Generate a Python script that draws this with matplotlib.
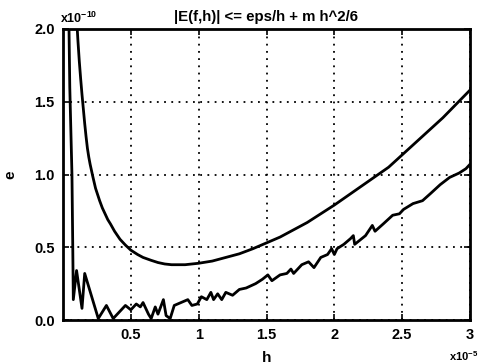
import matplotlib
matplotlib.use("Agg")
import matplotlib.pyplot as plt

# Units: h in 1e-5, e in 1e-10
bound_h = [0.09, 0.10, 0.11, 0.12, 0.13, 0.14, 0.15, 0.16, 0.17, 0.18, 0.19, 0.20,
           0.22, 0.24, 0.27, 0.29, 0.31, 0.33, 0.35, 0.38, 0.42, 0.46, 0.50, 0.55,
           0.59, 0.65, 0.70, 0.75, 0.80, 0.90, 1.00, 1.10, 1.20, 1.30, 1.40, 1.50,
           1.60, 1.70, 1.80, 1.90, 2.00, 2.20, 2.40, 2.60, 2.80, 3.00]
bound_e = [2.30, 2.08, 1.92, 1.78, 1.66, 1.55, 1.45, 1.35, 1.26, 1.18, 1.12, 1.07,
           0.985, 0.905, 0.82, 0.77, 0.73, 0.69, 0.66, 0.61, 0.555, 0.515, 0.48, 0.45,
           0.43, 0.41, 0.395, 0.385, 0.38, 0.38, 0.39, 0.405, 0.43, 0.455, 0.49, 0.53,
           0.57, 0.62, 0.67, 0.73, 0.79, 0.92, 1.05, 1.22, 1.39, 1.58]

err_h = [0.040, 0.050, 0.066, 0.072, 0.076, 0.10, 0.14, 0.16, 0.26, 0.32, 0.37, 0.46,
         0.50, 0.54, 0.57, 0.59, 0.63, 0.65, 0.68, 0.70, 0.74, 0.76, 0.79, 0.82,
         0.87, 0.92, 0.95, 0.99, 1.02, 1.06, 1.09, 1.11, 1.14, 1.17, 1.20, 1.25,
         1.30, 1.35, 1.42, 1.47, 1.51, 1.54, 1.60, 1.65, 1.68, 1.70, 1.76, 1.81,
         1.85, 1.90, 1.95, 1.98, 2.00, 2.02, 2.07, 2.12, 2.14, 2.15, 2.23, 2.28,
         2.30, 2.36, 2.43, 2.48, 2.51, 2.58, 2.65, 2.71, 2.78, 2.85, 2.92, 2.97, 3.00]
err_e = [2.3, 1.6, 1.0, 0.5, 0.14, 0.34, 0.08, 0.32, 0.01, 0.10, 0.01, 0.10,
         0.07, 0.11, 0.09, 0.12, 0.04, 0.01, 0.09, 0.04, 0.14, 0.03, 0.01, 0.10,
         0.12, 0.14, 0.10, 0.11, 0.16, 0.14, 0.19, 0.14, 0.18, 0.14, 0.19, 0.17,
         0.21, 0.22, 0.25, 0.28, 0.31, 0.27, 0.31, 0.32, 0.35, 0.32, 0.38, 0.40,
         0.36, 0.43, 0.45, 0.49, 0.45, 0.49, 0.52, 0.56, 0.58, 0.52, 0.58, 0.65,
         0.61, 0.66, 0.72, 0.73, 0.76, 0.80, 0.82, 0.87, 0.93, 0.98, 1.01, 1.04, 1.07]

xticks = [0.5, 1, 1.5, 2, 2.5, 3]
xticklabels = ["0.5", "1", "1.5", "2", "2.5", "3"]
yticks = [0.0, 0.5, 1.0, 1.5, 2.0]
yticklabels = ["0.0", "0.5", "1.0", "1.5", "2.0"]

plt.rcParams['font.family'] = ['Liberation Sans', 'DejaVu Sans']

fig = plt.figure(figsize=(4.82, 3.64), dpi=100)
ax = fig.add_axes([63/482, 1-320/364, (470-63)/482, (320-29)/364])

ax.plot(bound_h, bound_e, color='black', lw=2.0, clip_on=True)
ax.plot(err_h, err_e, color='black', lw=2.0, clip_on=True)

ax.set_xlim(0, 3)
ax.set_ylim(0, 2)
ax.set_xticks(xticks)
ax.set_xticklabels(xticklabels)
ax.set_yticks(yticks)
ax.set_yticklabels(yticklabels)
ax.tick_params(direction='in', length=4, width=1.2, top=True, right=True,
               labelsize=10.5, pad=6)
for lab in ax.get_xticklabels() + ax.get_yticklabels():
    lab.set_fontweight('bold')

ax.grid(True, color='black', linestyle=(0, (1, 3)), linewidth=1.3)
for s in ax.spines.values():
    s.set_linewidth(2.0)

ax.set_title("|E(f,h)| <= eps/h + m h^2/6", fontsize=10.8, fontweight='bold', pad=6)
ax.set_xlabel("h", fontsize=11, fontweight='bold', labelpad=6)
ax.set_ylabel("e", fontsize=11, fontweight='bold', labelpad=12)

fig.text(60/482, 1-18/364, r"x10$^{\mathregular{-10}}$", fontsize=9, fontweight='bold',
         ha='left', va='center')
fig.text(449/482, 1-356/364, r"x10$^{\mathregular{-5}}$", fontsize=8, fontweight='bold',
         ha='left', va='center')

fig.savefig("out.png", dpi=100)
